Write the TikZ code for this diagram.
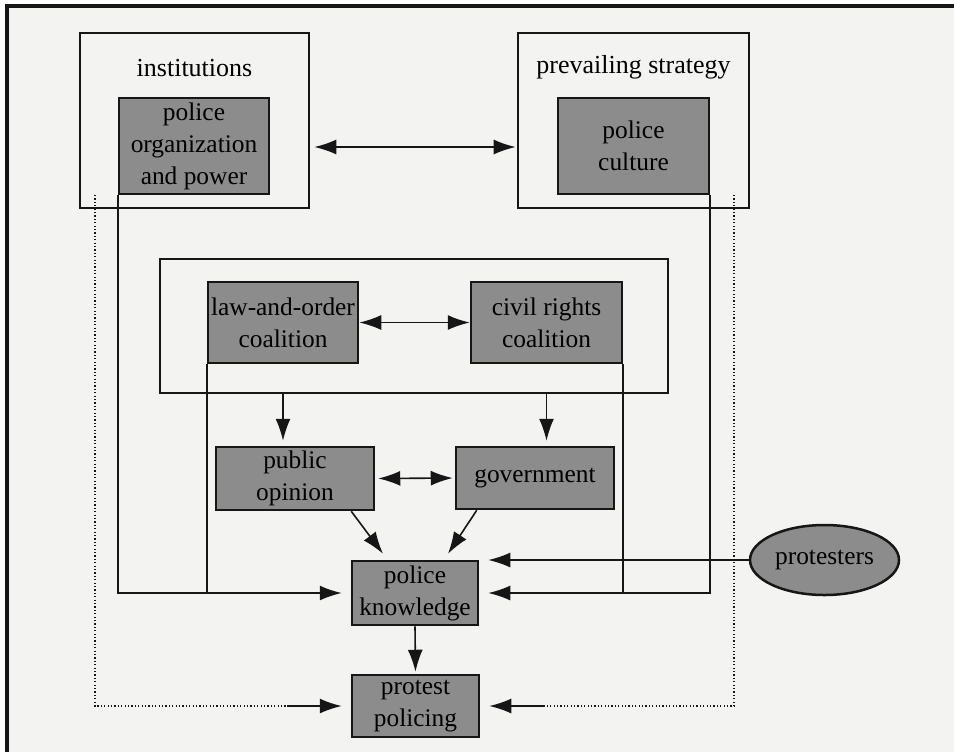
\documentclass[tikz,border=0pt]{standalone}
\usepackage{fontspec}
\setmainfont{Liberation Serif}
\usetikzlibrary{arrows.meta,shapes.geometric}
\definecolor{paper}{HTML}{F3F3F1}
\definecolor{boxgray}{HTML}{8C8C8C}
\definecolor{ink}{HTML}{161616}
\begin{document}
\begin{tikzpicture}[x=0.5pt,y=-0.5pt,
  font=\fontsize{12.7}{16}\selectfont,
  sz/.style 2 args={minimum width=#1*0.5pt, minimum height=#2*0.5pt},
  outerbox/.style={draw=ink,line width=1.3pt,fill=paper,inner sep=0pt},
  innerbox/.style={draw=ink,line width=1.25pt,fill=boxgray,inner sep=0pt,align=center},
  lbl/.style={inner sep=0pt,align=center},
  tipa/.tip={Latex[length=11pt,width=7.5pt]},
  plain/.style={draw=ink,line width=0.8pt},
  conn/.style={plain,-tipa},
  biconn/.style={plain,tipa-tipa},
  dotline/.style={draw=ink,line width=0.8pt,dash pattern=on 0.6pt off 1.1pt}
]
\path[use as bounding box] (0,0) rectangle (954,752);
\fill[white] (0,0) rectangle (954,752);
\fill[paper] (7,6) rectangle (954,752);
\draw[line width=1.6pt,ink] (7,752) -- (7,6) -- (954,6);

% outer boxes
\node[outerbox,sz={229}{175}] (inst) at (194.5,120.5) {};
\node[outerbox,sz={231}{175}] (prev) at (633.5,120.5) {};
\node[outerbox,sz={508}{134}] (coal) at (414,326) {};
\node[lbl,font=\fontsize{13}{16}\selectfont] (instl) at (194.5,68) {institutions};
\node[lbl,font=\fontsize{13}{16}\selectfont] (prevl) at (633.5,67) {prevailing strategy};

% inner boxes
\node[innerbox,sz={150}{96}] (org) at (194,146) {police\\organization\\and power};
\node[innerbox,sz={151}{96}] (cult) at (633.5,146) {police\\culture};
\node[innerbox,sz={150}{81}] (law) at (283,322.5) {law-and-order\\coalition};
\node[innerbox,sz={151}{81}] (civil) at (546.5,322.5) {civil rights\\coalition};
\node[innerbox,sz={158}{63}] (pub) at (295,478.5) {public\\opinion};
\node[innerbox,sz={158}{62}] (gov) at (535,478) {government};
\node[innerbox,sz={126}{64}] (know) at (415,593) {police\\knowledge};
\node[innerbox,sz={127}{62}] (pp) at (415.5,706) {protest\\policing};
\node[ellipse,draw=ink,line width=1.25pt,fill=boxgray,inner sep=0pt,sz={149}{70}] (prot) at (824.5,560) {protesters};

% helper coordinates
\coordinate (kL) at ([xshift=-4.5pt]know.west);
\coordinate (kR) at ([xshift=4.5pt]know.east);
\coordinate (pL) at ([xshift=-4.5pt]pp.west);
\coordinate (pR) at ([xshift=4.5pt]pp.east);
\coordinate (dl) at (95,195);
\coordinate (dr) at (734,195);
\coordinate (dls) at (287,706);
\coordinate (drs) at (543,706);

% connectors
\draw[biconn,shorten <=2pt,shorten >=0.5pt] (inst.east |- 0,147) -- (prev.west |- 0,147);
\draw[biconn] (law.east) -- (civil.west);
\draw[conn,shorten >=2.5pt] (coal.south -| law.south) -- (pub.north -| law.south);
\draw[conn,shorten >=2.5pt] (coal.south -| civil.south) -- (gov.north -| civil.south);
\draw[biconn,shorten <=1.5pt,shorten >=1pt] (pub.east) -- (gov.west);
\draw[conn] ([xshift=-12pt]pub.south east) -- ([xshift=-16pt,yshift=3pt]know.north);
\draw[conn] ([xshift=11pt]gov.south west) -- ([xshift=16.5pt,yshift=3pt]know.north);
\draw[conn,shorten >=1pt] (know.south) -- (pp.north);

% left feeds
\draw[conn] (org.south west) |- (kL);
\draw[plain] (law.south west) -- (law.south west |- kL);
% right feeds
\draw[conn] (cult.south east) |- (kR);
\draw[plain] (civil.south east) -- (civil.south east |- kR);
\draw[conn] (prot.west) -- (prot.west -| kR);

% dotted feeds
\draw[dotline] (dl) |- (dls);
\draw[conn] (dls) -- (pL);
\draw[dotline] (dr) |- (drs);
\draw[conn] (drs) -- (pR);
\end{tikzpicture}
\end{document}
